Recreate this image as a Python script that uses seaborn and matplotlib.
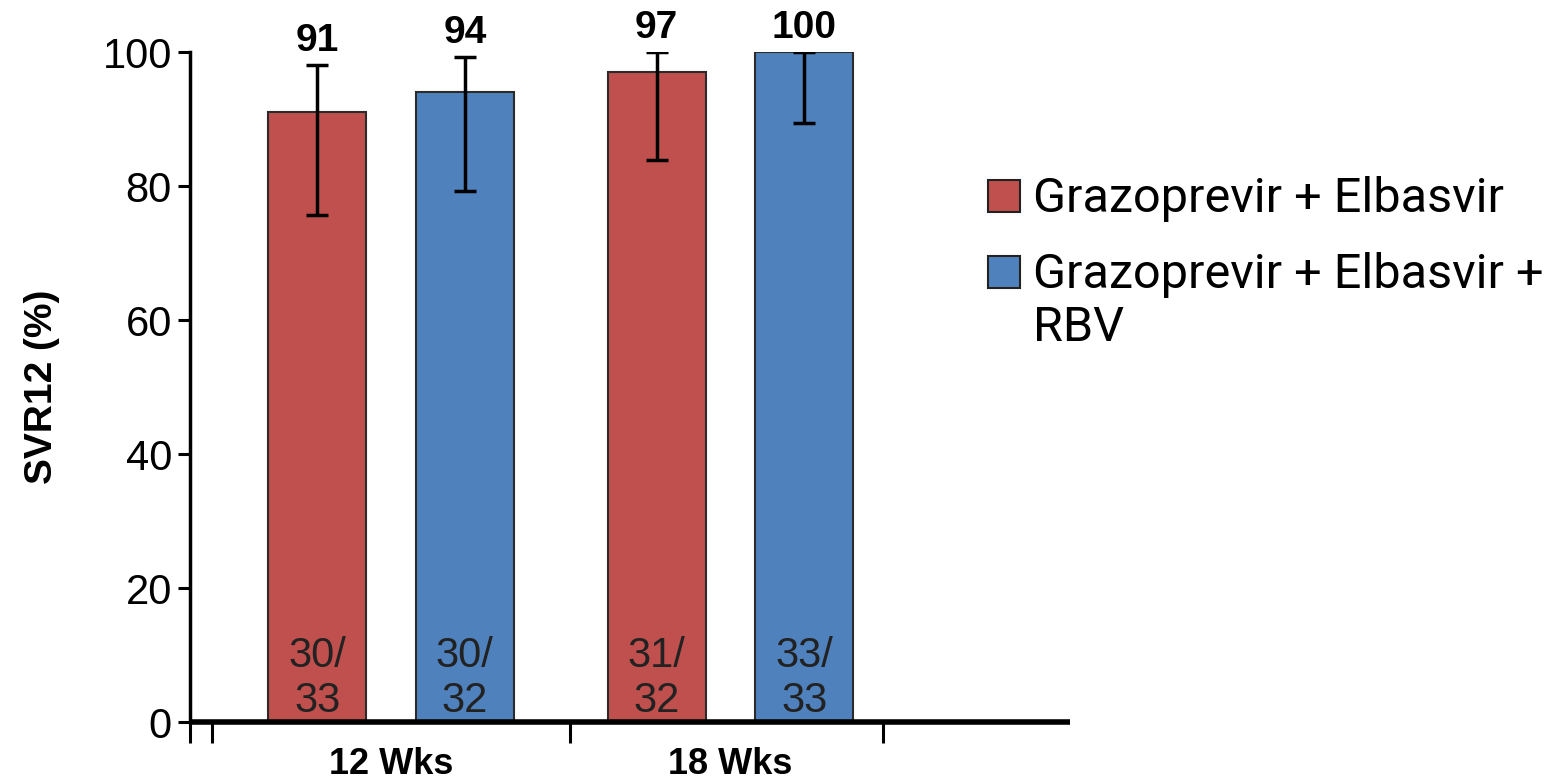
import matplotlib.pyplot as plt
import matplotlib.patches as mpatches
import pandas as pd
import seaborn as sns
import numpy as np

# Data
weeks = ['12 Wks', '12 Wks', '18 Wks', '18 Wks']
regimens = ['Grazoprevir + Elbasvir', 'Grazoprevir + Elbasvir + RBV',
            'Grazoprevir + Elbasvir', 'Grazoprevir + Elbasvir + RBV']
svr = [91, 94, 97, 100]
ci_low = [75.7, 79.3, 83.9, 89.4]
ci_high = [98.1, 99.3, 100, 100]
n_labels = ['30/\n33', '30/\n32', '31/\n32', '33/\n33']
hue_levels = ['Grazoprevir + Elbasvir', 'Grazoprevir + Elbasvir + RBV']
week_levels = ['12 Wks', '18 Wks']
legend_labels = ['Grazoprevir + Elbasvir', 'Grazoprevir + Elbasvir +\nRBV']
colors = ['#C0504D', '#4F81BD']

df = pd.DataFrame({'weeks': weeks, 'regimen': regimens, 'svr': svr,
                   'low': ci_low, 'high': ci_high, 'n': n_labels})

sns.set_style('ticks')
plt.rcParams['font.family'] = ['Liberation Sans', 'DejaVu Sans']
plt.rcParams.update({'text.color': 'black', 'axes.labelcolor': 'black',
                     'xtick.color': 'black', 'ytick.color': 'black',
                     'axes.edgecolor': 'black'})

W, H = 1552, 780
fig = plt.figure(figsize=(W / 100, H / 100), dpi=100)
ax = fig.add_axes([190 / W, 1 - 722 / H, (1070 - 190) / W, 670 / H])

sns.barplot(data=df, x='weeks', y='svr', hue='regimen', palette=colors,
            hue_order=hue_levels, order=week_levels, saturation=1,
            width=0.87, gap=0.337, errorbar=None, edgecolor='#2b2b2b',
            linewidth=1.5, legend=False, ax=ax)

# bar centres from the drawn patches
centers = {}
for h, cont in zip(hue_levels, ax.containers):
    for w, bar in zip(week_levels, cont):
        centers[(w, h)] = bar.get_x() + bar.get_width() / 2

xs = np.array([centers[(w, r)] for w, r in zip(df['weeks'], df['regimen'])])
vals = df['svr'].to_numpy()
yerr = [vals - df['low'].to_numpy(), df['high'].to_numpy() - vals]
ax.errorbar(xs, vals, yerr=yerr, fmt='none', ecolor='black',
            elinewidth=2.5, capsize=8, capthick=2.5, zorder=5)

for x, top, v, n in zip(xs, df['high'], vals, df['n']):
    ax.annotate(str(v), (x, top), xytext=(0, 4), textcoords='offset points',
                ha='center', va='bottom', fontsize=28, fontweight='bold')
    ax.annotate(n, (x, 0), xytext=(0, 1), textcoords='offset points',
                ha='center', va='bottom', fontsize=30, color='#222222',
                linespacing=1.15)

ax.set_xlim(-0.592, 2.0)
ax.set_ylim(0, 100)
ax.set_yticks([0, 20, 40, 60, 80, 100])
ax.tick_params(axis='y', labelsize=30, length=9, width=2.2, pad=4)

ax.set_xticks([-0.592, -0.527, 0.527, 1.45])
ax.set_xticklabels([])
ax.tick_params(axis='x', which='major', length=15, width=2.2, direction='out')
ax.set_xticks([0, 1], minor=True)
ax.set_xticklabels(week_levels, minor=True, fontsize=26, fontweight='bold')
ax.tick_params(axis='x', which='minor', length=0, pad=18)

ax.set_xlabel('')
ax.set_ylabel('SVR12 (%)', fontsize=28, fontweight='bold')
ax.yaxis.set_label_coords(-0.148, 0.5)

sns.despine(ax=ax)
ax.spines['left'].set_linewidth(2.5)
ax.spines['bottom'].set_linewidth(4)
ax.spines['bottom'].set_capstyle('butt')

# legend, placed beside the plot
for i, (lab, col) in enumerate(zip(legend_labels, colors)):
    y_top = [180, 256][i]
    fig.add_artist(mpatches.Rectangle((988 / W, 1 - (y_top + 32) / H), 32 / W, 32 / H,
                                      transform=fig.transFigure, facecolor=col,
                                      edgecolor='#222222', linewidth=1.5))
    fig.text(1033 / W, 1 - (y_top - 4) / H, lab, family='Roboto', fontsize=35,
             va='top', ha='left', linespacing=1.2)

fig.savefig('out.png', dpi=100)
